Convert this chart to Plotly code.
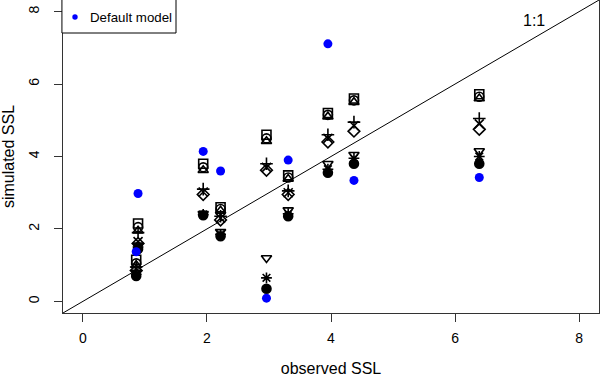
import plotly.graph_objects as go

# observed SSL at each site
observed = [0.89, 0.86, 1.94, 2.22, 2.96, 3.31, 3.95, 4.37, 6.39]
# default model simulation
default_model = [2.98, 1.37, 4.14, 3.60, 0.09, 3.90, 7.11, 3.34, 3.42]

# calibrated model runs (black symbols), one value per site
run_1 = [2.15, 1.15, 3.80, 2.60, 4.60, 3.48, 5.20, 5.60, 5.72]
run_2 = [2.05, 1.05, 3.70, 2.55, 4.50, 3.42, 5.15, 5.55, 5.65]
run_3 = [1.95, 1.00, 3.62, 2.50, 4.42, 3.38, 5.10, 5.50, 5.60]
run_4 = [1.90, 0.95, 3.10, 2.35, 3.80, 3.05, 4.60, 4.95, 5.05]
run_5 = [1.65, 0.90, 3.02, 2.30, 3.70, 3.00, 4.50, 4.85, 4.90]
run_6 = [1.60, 0.85, 2.95, 2.25, 3.62, 2.95, 4.40, 4.70, 4.75]
run_7 = [1.55, 0.80, 2.42, 1.92, 1.20, 2.52, 3.80, 4.05, 4.15]
run_8 = [1.50, 0.75, 2.40, 1.85, 0.65, 2.42, 3.65, 3.95, 4.00]
run_9 = [1.45, 0.70, 2.38, 1.80, 0.35, 2.35, 3.55, 3.80, 3.80]

runs = [run_1, run_2, run_3, run_4, run_5, run_6, run_7, run_8, run_9]
run_symbols = ["square-open", "circle-open", "triangle-up-open", "cross-thin-open",
               "x-thin-open", "diamond-open", "triangle-down-open", "asterisk-open",
               "circle"]

one_to_one = [-1, 9]
x_ticks = [0, 2, 4, 6, 8]
y_ticks = [0, 2, 4, 6, 8]

FONT = "Liberation Sans, Arial, sans-serif"

fig = go.Figure()

for i, (r, s) in enumerate(zip(runs, run_symbols)):
    fig.add_trace(go.Scatter(
        x=observed, y=r, mode="markers", name=f"run {i+1}", showlegend=False,
        marker=dict(symbol=s, size=9, color="black",
                    line=dict(color="black", width=1.6)),
    ))

fig.add_trace(go.Scatter(
    x=one_to_one, y=one_to_one, mode="lines", showlegend=False,
    line=dict(color="black", width=1),
))

fig.add_trace(go.Scatter(
    x=observed, y=default_model, mode="markers", name="Default model",
    showlegend=False,
    marker=dict(symbol="circle", size=9, color="#0000ff", line=dict(width=0)),
))

# legend box (drawn like R's legend)
fig.add_shape(type="rect", xref="paper", yref="paper",
              x0=-0.002, x1=113/536, y0=1 - 33/313, y1=1.01,
              line=dict(color="black", width=1), fillcolor="white", layer="above")
fig.add_shape(type="circle", xref="paper", yref="paper",
              x0=(12-2.7)/536, x1=(12+2.7)/536,
              y0=1 - (17+2.7)/313, y1=1 - (17-2.7)/313,
              line=dict(width=0), fillcolor="#0000ff", layer="above")
fig.add_annotation(text="Default model", xref="paper", yref="paper",
                   x=25/536, y=1 - 17/313, xanchor="left", yanchor="middle",
                   showarrow=False, font=dict(family=FONT, size=13.3, color="black"))

fig.add_annotation(text="1:1", x=7.28, y=7.75, xref="x", yref="y",
                   showarrow=False, font=dict(family=FONT, size=16, color="black"))

fig.update_layout(
    width=600, height=377,
    margin=dict(l=63, r=1, t=0, b=64),
    paper_bgcolor="white", plot_bgcolor="white",
    font=dict(family=FONT, size=13.5, color="black"),
    xaxis=dict(range=[-0.32, 8.32], tickvals=x_ticks, ticks="outside", ticklen=8,
               tickcolor="#333", showgrid=False, zeroline=False, automargin=False,
               showline=True, mirror=True, linecolor="#333", linewidth=1,
               tickfont=dict(size=14),
               title=dict(text="observed SSL", standoff=22),
               ticklabelstandoff=4),
    yaxis=dict(range=[-0.32, 8.32], tickvals=y_ticks, ticks="outside", ticklen=8,
               tickcolor="#333", showgrid=False, zeroline=False, automargin=False,
               showline=True, mirror=True, linecolor="#333", linewidth=1,
               tickfont=dict(size=14),
               tickangle=-90, title=dict(text="simulated SSL", standoff=17),
               ticklabelstandoff=9),
)

fig.write_html(
    "out.html",
    config={"displayModeBar": False},
    post_script="document.body.style.margin='0';document.body.style.padding='0';"
                "document.documentElement.style.overflow='hidden';",
)
